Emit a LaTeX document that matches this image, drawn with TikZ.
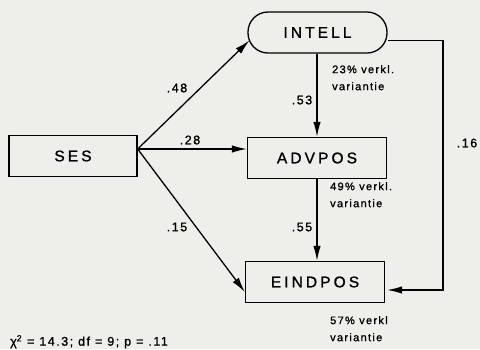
\documentclass[tikz,border=0pt]{standalone}
\usepackage{fontspec}
\setmainfont{Liberation Sans}[LetterSpace=12, FakeBold=1.2]
\newfontfamily\boxfont{Liberation Sans}[LetterSpace=20, FakeBold=1.2]
\usetikzlibrary{arrows.meta}
\definecolor{bg}{RGB}{238,238,235}
\begin{document}
\begin{tikzpicture}[x=1pt,y=-1pt,
 box/.style={draw, line width=1.3pt, minimum width=139pt, minimum height=41pt, font=\boxfont\fontsize{15.5}{18}\selectfont, inner sep=0pt},
 conn/.style={line width=1.3pt, -{Latex[length=15pt,width=7.5pt]}},
 lbl/.style={font=\fontsize{12.5}{14}\selectfont, inner sep=0pt},
 note/.style={font=\fontsize{11}{17}\selectfont, align=left, inner sep=0pt, anchor=north west}]
\fill[bg] (0,0) rectangle (480,349);
\useasboundingbox (0,0) rectangle (480,349);
\node[box, rounded corners=20pt] (intell) at (317.5,32.5) {INTELL};
\node[box, minimum width=128pt] (ses) at (73,156) {SES};
\node[box] (adv) at (317,158) {ADVPOS};
\node[box] (eind) at (315,282) {EINDPOS};
\coordinate (sesA) at ([yshift=7pt]ses.east);
\coordinate (r) at (443,40.5);
\draw[conn] (sesA) -- ([shift={(2pt,-8pt)}]intell.west);
\draw[conn] (sesA) -- (adv.west |- sesA);
\draw[conn] (sesA) -- ([yshift=-10pt]eind.west);
\draw[conn] (intell.south -| adv.north) -- (adv.north);
\draw[conn] (adv.south) -- (adv.south |- eind.north);
\draw[conn] ([yshift=-8pt]intell.east) -- (r) |- ([shift={(2pt,-8pt)}]eind.east);
\node[lbl] (l48) at (177,88) {.48};
\node[lbl] (l28) at (190,140) {.28};
\node[lbl] (l15) at (177,227) {.15};
\node[lbl] (l53) at (302,100) {.53};
\node[lbl] (l55) at (302,227) {.55};
\node[lbl] (l16) at (467,143) {.16};
\node[note] (n1) at (332,65) {23\% verkl.\\variantie};
\node[note] (n2) at (330,182) {49\% verkl.\\variantie};
\node[note] (n3) at (330,316) {57\% verkl\\variantie};
\node[anchor=north west, inner sep=0pt, font=\fontsize{12.5}{15}\selectfont] (chi) at (10,335) {χ\textsuperscript{2} = 14.3; df = 9; p = .11};
\end{tikzpicture}
\end{document}
